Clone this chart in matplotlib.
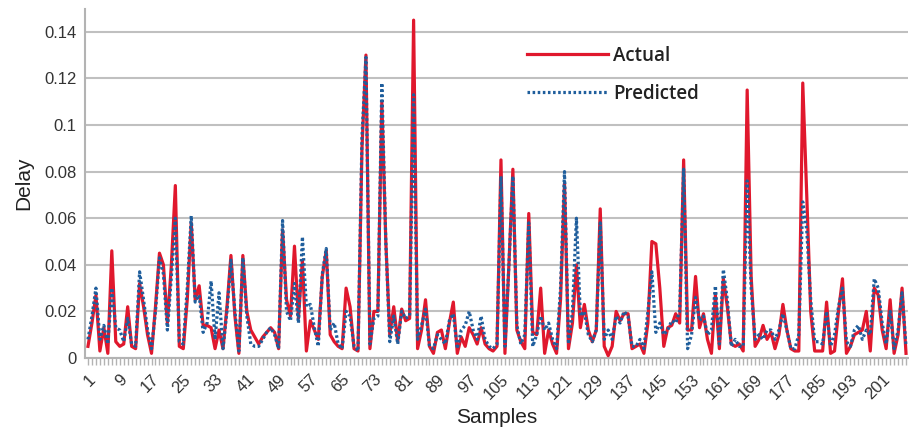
import matplotlib
matplotlib.use("Agg")
import matplotlib.pyplot as plt
from matplotlib.ticker import MultipleLocator, FixedLocator

actual = [
    0.005, 0.015, 0.027, 0.003, 0.013, 0.002, 0.046, 0.007, 0.005, 0.006,
    0.022, 0.005, 0.004, 0.032, 0.022, 0.010, 0.002, 0.022, 0.045, 0.040,
    0.015, 0.040, 0.074, 0.005, 0.004, 0.025, 0.058, 0.025, 0.031, 0.014,
    0.014, 0.013, 0.004, 0.012, 0.004, 0.022, 0.044, 0.018, 0.002, 0.044,
    0.020, 0.012, 0.009, 0.006, 0.009, 0.011, 0.013, 0.011, 0.004, 0.055,
    0.025, 0.018, 0.048, 0.017, 0.042, 0.003, 0.016, 0.012, 0.008, 0.035,
    0.046, 0.010, 0.007, 0.005, 0.004, 0.030, 0.022, 0.004, 0.003, 0.090,
    0.130, 0.004, 0.020, 0.020, 0.110, 0.050, 0.010, 0.022, 0.007, 0.021,
    0.016, 0.017, 0.145, 0.004, 0.012, 0.025, 0.005, 0.002, 0.011, 0.012,
    0.004, 0.015, 0.024, 0.002, 0.009, 0.005, 0.013, 0.010, 0.006, 0.013,
    0.006, 0.004, 0.003, 0.005, 0.085, 0.002, 0.040, 0.081, 0.012, 0.007,
    0.004, 0.062, 0.011, 0.010, 0.030, 0.002, 0.012, 0.006, 0.002, 0.025,
    0.075, 0.004, 0.015, 0.040, 0.013, 0.023, 0.012, 0.007, 0.012, 0.064,
    0.005, 0.001, 0.005, 0.020, 0.016, 0.019, 0.019, 0.004, 0.005, 0.006,
    0.002, 0.015, 0.050, 0.049, 0.030, 0.005, 0.013, 0.014, 0.019, 0.015,
    0.085, 0.012, 0.012, 0.035, 0.013, 0.019, 0.008, 0.002, 0.027, 0.004,
    0.034, 0.022, 0.006, 0.005, 0.006, 0.003, 0.115, 0.035, 0.005, 0.008,
    0.014, 0.008, 0.011, 0.004, 0.010, 0.023, 0.012, 0.004, 0.003, 0.003,
    0.118, 0.070, 0.020, 0.003, 0.003, 0.003, 0.024, 0.002, 0.003, 0.020,
    0.034, 0.002, 0.005, 0.010, 0.011, 0.012, 0.020, 0.003, 0.030, 0.027,
    0.012, 0.004, 0.025, 0.002, 0.010, 0.030, 0.002,
]

predicted = [
    0.008, 0.018, 0.030, 0.008, 0.014, 0.006, 0.030, 0.013, 0.012, 0.007,
    0.017, 0.006, 0.005, 0.037, 0.025, 0.012, 0.004, 0.020, 0.043, 0.036,
    0.012, 0.035, 0.060, 0.007, 0.006, 0.030, 0.061, 0.024, 0.027, 0.011,
    0.015, 0.033, 0.008, 0.028, 0.004, 0.020, 0.042, 0.020, 0.003, 0.043,
    0.018, 0.006, 0.005, 0.005, 0.008, 0.011, 0.013, 0.010, 0.004, 0.059,
    0.020, 0.016, 0.032, 0.015, 0.052, 0.022, 0.023, 0.013, 0.005, 0.036,
    0.047, 0.012, 0.015, 0.006, 0.004, 0.020, 0.018, 0.005, 0.003, 0.095,
    0.129, 0.006, 0.017, 0.018, 0.118, 0.050, 0.007, 0.018, 0.006, 0.020,
    0.017, 0.018, 0.113, 0.008, 0.014, 0.021, 0.005, 0.004, 0.010, 0.008,
    0.006, 0.016, 0.019, 0.004, 0.012, 0.014, 0.020, 0.012, 0.008, 0.018,
    0.008, 0.005, 0.004, 0.006, 0.078, 0.005, 0.040, 0.078, 0.014, 0.006,
    0.010, 0.058, 0.005, 0.010, 0.018, 0.012, 0.015, 0.008, 0.004, 0.030,
    0.080, 0.006, 0.020, 0.060, 0.018, 0.020, 0.010, 0.007, 0.012, 0.058,
    0.008, 0.012, 0.008, 0.018, 0.015, 0.020, 0.018, 0.005, 0.005, 0.008,
    0.004, 0.020, 0.037, 0.011, 0.015, 0.010, 0.012, 0.016, 0.015, 0.020,
    0.081, 0.004, 0.010, 0.026, 0.016, 0.018, 0.010, 0.012, 0.031, 0.006,
    0.038, 0.025, 0.005, 0.008, 0.005, 0.005, 0.076, 0.030, 0.008, 0.010,
    0.008, 0.012, 0.012, 0.008, 0.012, 0.019, 0.012, 0.004, 0.004, 0.010,
    0.067, 0.055, 0.025, 0.007, 0.007, 0.006, 0.020, 0.005, 0.010, 0.022,
    0.030, 0.007, 0.005, 0.012, 0.014, 0.008, 0.012, 0.010, 0.034, 0.030,
    0.015, 0.006, 0.020, 0.004, 0.012, 0.028, 0.005,
]

samples = list(range(1, len(actual) + 1))
x_tick_labels = list(range(1, len(actual) + 1, 8))
y_ticks = [0, 0.02, 0.04, 0.06, 0.08, 0.1, 0.12, 0.14]
y_tick_labels = ["0", "0.02", "0.04", "0.06", "0.08", "0.1", "0.12", "0.14"]

plt.rcParams['font.family'] = ['Liberation Sans', 'DejaVu Sans']

fig = plt.figure(figsize=(9.09, 4.30), dpi=100)
ax = fig.add_axes([85 / 909, 1 - 358 / 430, 823 / 909, 349.5 / 430])

ax.plot(samples, actual, color='#e0182d', lw=2.3, label='Actual', zorder=3)
ax.plot(samples, predicted, color='#1f5e9c', lw=2.3, linestyle=(0, (0.8, 0.8)),
        label='Predicted', zorder=4)

ax.set_xlim(0.25, 207.5)
ax.set_ylim(0, 0.15)
ax.set_yticks(y_ticks)
ax.set_yticklabels(y_tick_labels)
ax.xaxis.set_major_locator(FixedLocator(x_tick_labels))
ax.set_xticklabels([str(v) for v in x_tick_labels], rotation=45,
                   ha='right', rotation_mode='anchor')
ax.xaxis.set_minor_locator(MultipleLocator(1))
ax.tick_params(axis='x', which='both', length=5, color='#b3b3b3', width=1,
               labelsize=12, labelcolor='#333333', pad=5)
ax.tick_params(axis='y', length=0, labelsize=12, labelcolor='#333333', pad=6)

ax.grid(axis='y', color='#c0c0c0', lw=1.5)
ax.set_axisbelow(True)
for s in ['top', 'right']:
    ax.spines[s].set_visible(False)
for s in ['left', 'bottom']:
    ax.spines[s].set_color('#b3b3b3')
    ax.spines[s].set_linewidth(1.5)

ax.set_xlabel('Samples', fontsize=15, color='#222222', labelpad=4)
ax.set_ylabel('Delay', fontsize=15, color='#222222', labelpad=8)

leg = ax.legend(loc='upper left', bbox_to_anchor=(527 / 909, 1 - 46 / 430),
                bbox_transform=fig.transFigure, frameon=False,
                handlelength=4.3, handletextpad=0.3, labelspacing=0.95,
                borderpad=0, borderaxespad=0,
                prop={'family': 'Open Sans', 'weight': 'semibold', 'size': 13.5})
for t in leg.get_texts():
    t.set_color('#222222')

fig.savefig('out.png', dpi=100, facecolor='white')
